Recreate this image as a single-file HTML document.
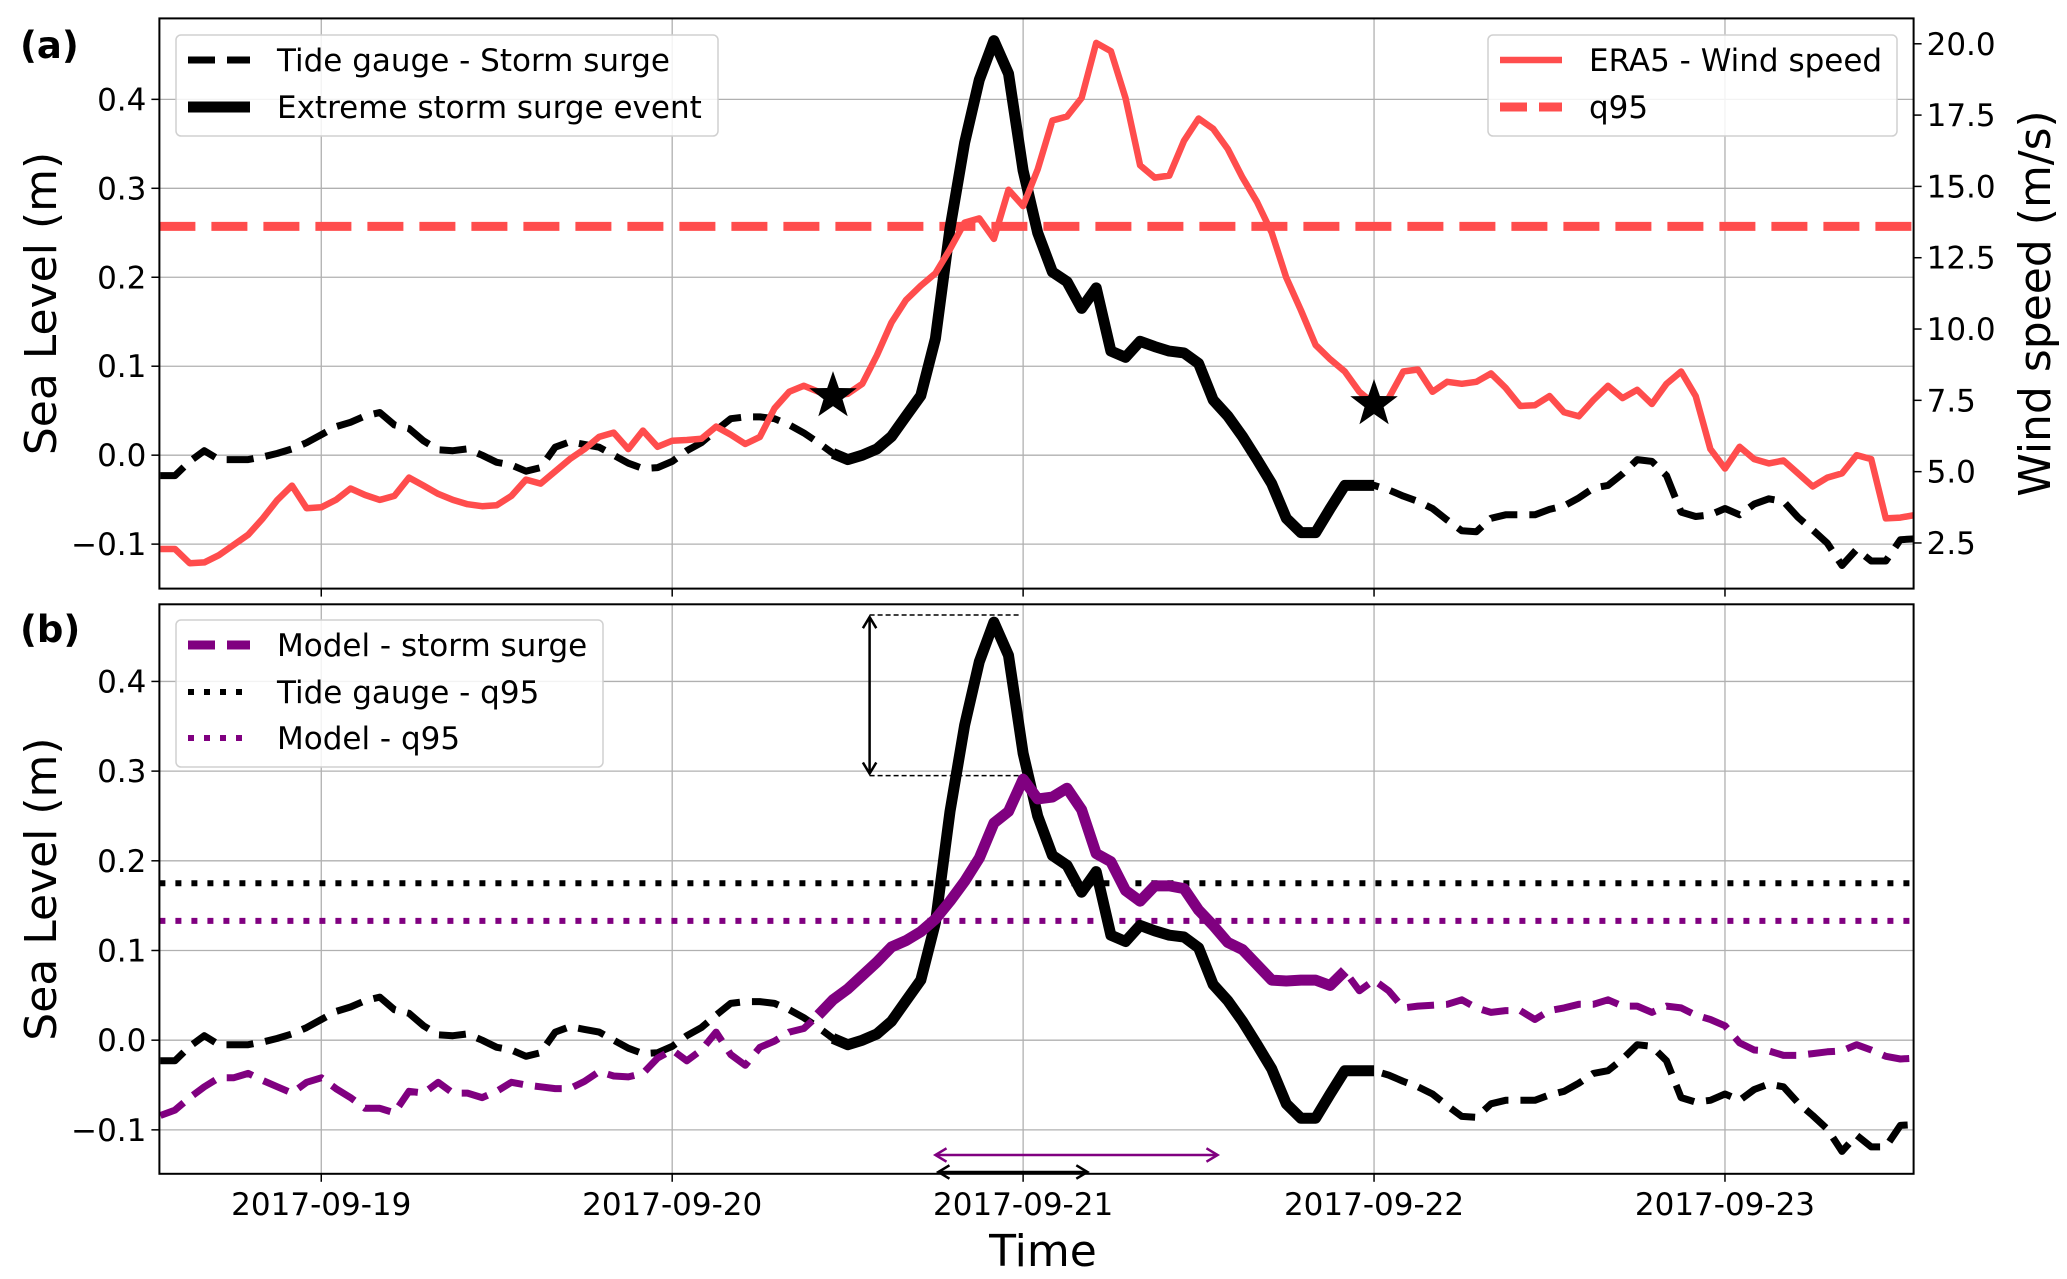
<!DOCTYPE html>
<html><head><meta charset="utf-8"><style>
html,body{margin:0;padding:0;background:#fff;}
svg{display:block;font-family:"DejaVu Sans","Liberation Sans",sans-serif;}
</style></head><body>
<svg id="chart" width="2067" height="1279" viewBox="0 0 2067 1279"></svg>
<script>
// hours since 2017-09-19 00:00 of first sample
const startHour = -11;
const dayLabels = ["2017-09-19","2017-09-20","2017-09-21","2017-09-22","2017-09-23"];
const dayHours = [0,24,48,72,96];
const seaTicks = [-0.1,0.0,0.1,0.2,0.3,0.4];
const seaTickLabels = ["\u22120.1","0.0","0.1","0.2","0.3","0.4"];
const windTicks = [2.5,5.0,7.5,10.0,12.5,15.0,17.5,20.0];
const windTickLabels = ["2.5","5.0","7.5","10.0","12.5","15.0","17.5","20.0"];
const tideSurge = [-0.023,-0.023,-0.007,0.005,-0.005,-0.005,-0.005,-0.002,0.002,0.007,0.014,0.023,0.032,0.037,0.044,0.048,0.034,0.030,0.016,0.006,0.005,0.007,0.000,-0.008,-0.011,-0.018,-0.014,0.009,0.015,0.012,0.009,0.000,-0.009,-0.015,-0.014,-0.007,0.005,0.014,0.028,0.041,0.043,0.043,0.041,0.034,0.025,0.014,0.002,-0.005,0.000,0.007,0.021,0.044,0.067,0.131,0.255,0.351,0.422,0.466,0.429,0.320,0.250,0.206,0.195,0.165,0.188,0.117,0.110,0.128,0.122,0.117,0.115,0.103,0.062,0.044,0.021,-0.005,-0.032,-0.071,-0.087,-0.087,-0.060,-0.034,-0.034,-0.034,-0.039,-0.046,-0.052,-0.060,-0.073,-0.085,-0.086,-0.071,-0.067,-0.067,-0.067,-0.061,-0.057,-0.048,-0.037,-0.034,-0.021,-0.005,-0.007,-0.023,-0.064,-0.069,-0.067,-0.060,-0.067,-0.055,-0.049,-0.052,-0.070,-0.084,-0.099,-0.124,-0.106,-0.119,-0.119,-0.095,-0.094];
const windSpeed = [2.29,2.29,1.79,1.82,2.07,2.43,2.79,3.36,4.01,4.51,3.72,3.75,4.01,4.41,4.18,4.01,4.15,4.79,4.51,4.22,4.01,3.86,3.79,3.82,4.15,4.72,4.58,5.01,5.44,5.79,6.22,6.37,5.79,6.44,5.87,6.08,6.11,6.15,6.58,6.30,5.97,6.22,7.22,7.80,8.01,7.80,7.65,7.73,8.08,9.08,10.23,11.02,11.52,11.95,12.80,13.73,13.88,13.16,14.88,14.31,15.6,17.31,17.45,18.10,20.03,19.74,18.10,15.74,15.31,15.38,16.60,17.38,17.02,16.31,15.31,14.45,13.38,11.80,10.66,9.44,8.94,8.51,7.80,7.37,7.58,8.51,8.58,7.80,8.15,8.08,8.15,8.44,7.94,7.30,7.33,7.65,7.08,6.94,7.51,8.01,7.58,7.87,7.37,8.08,8.51,7.65,5.79,5.11,5.87,5.44,5.29,5.39,4.94,4.48,4.79,4.94,5.58,5.44,3.36,3.39,3.48];
const modelSurge = [-0.084,-0.078,-0.064,-0.052,-0.042,-0.042,-0.037,-0.045,-0.052,-0.059,-0.047,-0.042,-0.054,-0.064,-0.076,-0.076,-0.081,-0.057,-0.059,-0.047,-0.059,-0.059,-0.064,-0.057,-0.047,-0.050,-0.052,-0.054,-0.054,-0.046,-0.035,-0.040,-0.041,-0.037,-0.020,-0.011,-0.023,-0.011,0.009,-0.016,-0.028,-0.008,-0.001,0.009,0.013,0.028,0.045,0.057,0.072,0.087,0.104,0.111,0.121,0.135,0.155,0.177,0.203,0.242,0.255,0.291,0.269,0.271,0.281,0.257,0.208,0.199,0.167,0.155,0.172,0.172,0.169,0.145,0.128,0.109,0.101,0.084,0.067,0.066,0.067,0.067,0.061,0.077,0.055,0.067,0.055,0.036,0.038,0.039,0.040,0.045,0.036,0.031,0.033,0.033,0.023,0.033,0.036,0.040,0.040,0.045,0.038,0.038,0.031,0.038,0.036,0.028,0.023,0.016,-0.003,-0.011,-0.012,-0.017,-0.017,-0.015,-0.013,-0.012,-0.005,-0.011,-0.018,-0.021,-0.020];
const tideEvent = [35,72];
const modelEvent = [34,70];
const windQ95 = [13.6];
const tideQ95 = [0.175];
const modelQ95 = [0.133];
const starHours = [35,72];
const peakTide = [0.474];
const peakModel = [0.295];
const tideWindow = [42.2,52.4];
const modelWindow = [42.0,61.3];

const NS="http://www.w3.org/2000/svg";
const svg=document.getElementById('chart');
const X0=159.4,X1=1913.6,H0=-11.07,H1=108.9;
function xs(h){return X0+(h-H0)/(H1-H0)*(X1-X0);}
const PA={top:18.4,bot:588.6,vmin:-0.15,vmax:0.491};
const PB={top:604.3,bot:1173.8,vmin:-0.149,vmax:0.486};
function ys(P,v){return P.bot-(v-P.vmin)/(P.vmax-P.vmin)*(P.bot-P.top);}
const W={min:0.90,max:20.89};
function yw(w){return PA.bot-(w-W.min)/(W.max-W.min)*(PA.bot-PA.top);}
function mk(tag,attrs,parent){const e=document.createElementNS(NS,tag);for(const k in attrs)e.setAttribute(k,attrs[k]);(parent||svg).appendChild(e);return e;}
function txt(s,attrs,parent){const e=mk('text',attrs,parent);e.textContent=s;return e;}
function pts(arr,yf,h0,h1){const p=[];arr.forEach((v,i)=>{const h=startHour+i;if(h>=h0&&h<=h1)p.push(xs(h).toFixed(1)+','+yf(v).toFixed(1));});return p.join(' ');}

[PA,PB].forEach((P,pi)=>{
  const g=mk('g',{'clip-path':'url(#clip'+pi+')'});
  
  
  const cp=mk('clipPath',{id:'clip'+pi});mk('rect',{x:X0,y:P.top,width:X1-X0,height:P.bot-P.top},cp);
  dayHours.forEach(h=>{const l=mk('line',{x1:xs(h),x2:xs(h),y1:P.top,y2:P.bot,stroke:'#b0b0b0','stroke-width':1.3},g);
    });
  seaTicks.forEach(v=>{const l=mk('line',{x1:X0,x2:X1,y1:ys(P,v),y2:ys(P,v),stroke:'#b0b0b0','stroke-width':1.3},g);
    });
  P.g=g;
});

let g=PA.g;
let e=mk('line',{x1:X0,x2:X1,y1:yw(windQ95[0]),y2:yw(windQ95[0]),stroke:'#ff4d4d','stroke-width':9,'stroke-dasharray':'36 16'},g);

e=mk('polyline',{points:pts(tideSurge,v=>ys(PA,v),-99,999),fill:'none',stroke:'#000','stroke-width':7,'stroke-dasharray':'27 12','stroke-linejoin':'round'},g);

e=mk('polyline',{points:pts(tideSurge,v=>ys(PA,v),tideEvent[0],tideEvent[1]),fill:'none',stroke:'#000','stroke-width':11,'stroke-linejoin':'round'},g);

e=mk('polyline',{points:pts(windSpeed,yw,-99,999),fill:'none',stroke:'#ff4d4d','stroke-width':6.5,'stroke-linejoin':'round'},g);

function star(cx,cy,r){const p=[];for(let i=0;i<10;i++){const a=-Math.PI/2+i*Math.PI/5;const rr=i%2?r*0.4:r;p.push((cx+rr*Math.cos(a)).toFixed(1)+','+(cy+rr*Math.sin(a)).toFixed(1));}return p.join(' ');}
starHours.forEach(h=>{const w=windSpeed[h-startHour];const s=mk('polygon',{points:star(xs(h),yw(w),25),fill:'#000'},g);
  });

g=PB.g;
e=mk('line',{x1:X0,x2:X1,y1:ys(PB,tideQ95[0]),y2:ys(PB,tideQ95[0]),stroke:'#000','stroke-width':6,'stroke-dasharray':'6 10'},g);

e=mk('line',{x1:X0,x2:X1,y1:ys(PB,modelQ95[0]),y2:ys(PB,modelQ95[0]),stroke:'#800080','stroke-width':6,'stroke-dasharray':'6 10'},g);

e=mk('polyline',{points:pts(tideSurge,v=>ys(PB,v),-99,999),fill:'none',stroke:'#000','stroke-width':7,'stroke-dasharray':'27 12','stroke-linejoin':'round'},g);

e=mk('polyline',{points:pts(tideSurge,v=>ys(PB,v),tideEvent[0],tideEvent[1]),fill:'none',stroke:'#000','stroke-width':11,'stroke-linejoin':'round'},g);

e=mk('polyline',{points:pts(modelSurge,v=>ys(PB,v),-99,999),fill:'none',stroke:'#800080','stroke-width':7,'stroke-dasharray':'27 12','stroke-linejoin':'round'},g);

e=mk('polyline',{points:pts(modelSurge,v=>ys(PB,v),modelEvent[0],modelEvent[1]),fill:'none',stroke:'#800080','stroke-width':11,'stroke-linejoin':'round'},g);

const ax=869.6, ya=ys(PB,peakTide[0]), yb=ys(PB,peakModel[0]);
e=mk('line',{x1:ax,x2:1020,y1:ya,y2:ya,stroke:'#000','stroke-width':1.5,'stroke-dasharray':'5 3'});

e=mk('line',{x1:ax,x2:1020,y1:yb,y2:yb,stroke:'#000','stroke-width':1.5,'stroke-dasharray':'5 3'});

function arrow(x1,y1,x2,y2,col,name){const gg=mk('g',{stroke:col,'stroke-width':2.5,fill:'none'});
  
  mk('line',{x1:x1,y1:y1,x2:x2,y2:y2},gg);
  const d=[[x1,y1,x2,y2],[x2,y2,x1,y1]];d.forEach(([a,b,c,dd])=>{const ang=Math.atan2(b-dd,a-c);const L=13;
    mk('polyline',{points:`${a+L*Math.cos(ang+2.6)},${b+L*Math.sin(ang+2.6)} ${a},${b} ${a+L*Math.cos(ang-2.6)},${b+L*Math.sin(ang-2.6)}`},gg);});}
arrow(ax,ya+2,ax,yb-2,'#000','peak-difference-arrow');
arrow(xs(modelWindow[0]),1155,xs(modelWindow[1]),1155,'#800080','model-duration-arrow');
arrow(xs(tideWindow[0]),1172,xs(tideWindow[1]),1172,'#000','tide-duration-arrow');

[PA,PB].forEach((P,pi)=>{
  e=mk('rect',{x:X0,y:P.top,width:X1-X0,height:P.bot-P.top,fill:'none',stroke:'#000','stroke-width':2});
  
  seaTicks.forEach((v,i)=>{const y=ys(P,v);mk('line',{x1:X0-8,x2:X0,y1:y,y2:y,stroke:'#000','stroke-width':1.5});
    const t=txt(seaTickLabels[i],{x:X0-13,y:y+11,'font-size':31,'text-anchor':'end'});
    });
  dayHours.forEach(h=>mk('line',{x1:xs(h),x2:xs(h),y1:P.bot,y2:P.bot+8,stroke:'#000','stroke-width':1.5}));
  const lab=txt('Sea Level (m)',{x:0,y:0,'font-size':44,'text-anchor':'middle',transform:`translate(56,${(P.top+P.bot)/2}) rotate(-90)`});
  
  const pl=txt(pi?'(b)':'(a)',{x:20,y:pi?642:58,'font-size':37,'font-weight':'bold'});
  
});
windTicks.forEach((w,i)=>{const y=yw(w);mk('line',{x1:X1,x2:X1+8,y1:y,y2:y,stroke:'#000','stroke-width':1.5});
  const t=txt(windTickLabels[i],{x:X1+13,y:y+11,'font-size':31});
  });
e=txt('Wind speed (m/s)',{x:0,y:0,'font-size':44,'text-anchor':'middle',transform:`translate(2050,${(PA.top+PA.bot)/2}) rotate(-90)`});

dayLabels.forEach((d,i)=>{const t=txt(d,{x:xs(dayHours[i]),y:1215,'font-size':31,'text-anchor':'middle'});
  });
e=txt('Time',{x:1043,y:1266,'font-size':44,'text-anchor':'middle'});


function legend(x,y,w,h,items,name){const gg=mk('g',{});
  mk('rect',{x:x,y:y,width:w,height:h,rx:5,fill:'#fff','fill-opacity':0.85,stroke:'#d0d0d0','stroke-width':1.5},gg);
  items.forEach(it=>{const l=mk('line',{x1:x+12,x2:x+74,y1:it.y,y2:it.y,stroke:it.c,'stroke-width':it.w},gg);
    if(it.d)l.setAttribute('stroke-dasharray',it.d);
    const t=txt(it.t,{x:x+101,y:it.y+11,'font-size':31},gg);
    });}
legend(176,35,542,101,[{y:60,t:'Tide gauge - Storm surge',c:'#000',w:7,d:'27 12'},{y:107,t:'Extreme storm surge event',c:'#000',w:11}],'legend-tide');
legend(1488,35,409,101,[{y:60,t:'ERA5 - Wind speed',c:'#ff4d4d',w:6.5},{y:107,t:'q95',c:'#ff4d4d',w:9,d:'27 12'}],'legend-wind');
legend(176,620,427,147,[{y:645,t:'Model - storm surge',c:'#800080',w:9,d:'27 12'},{y:692,t:'Tide gauge - q95',c:'#000',w:6,d:'6 10'},{y:738,t:'Model - q95',c:'#800080',w:6,d:'6 10'}],'legend-model');
</script>
</body></html>
